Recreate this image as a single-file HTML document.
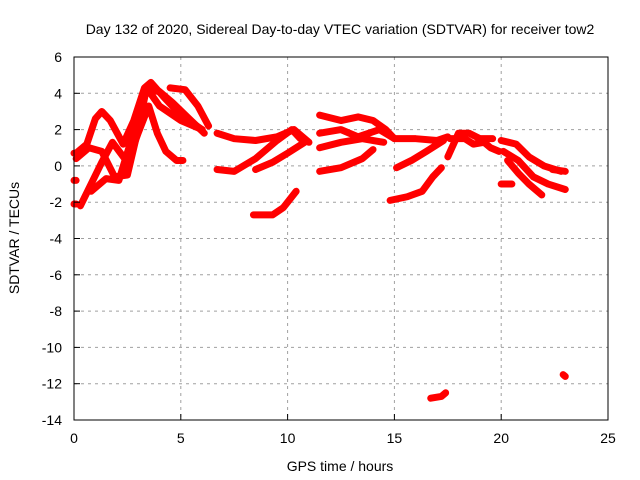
<!DOCTYPE html>
<html><head><meta charset="utf-8"><style>
body{margin:0;background:#fff}
svg{display:block;font-family:"Liberation Sans",sans-serif}
</style></head><body>
<svg id="c" width="640" height="480" xmlns="http://www.w3.org/2000/svg">
<text x="340" y="34" font-size="14" text-anchor="middle">Day 132 of 2020, Sidereal Day-to-day VTEC variation (SDTVAR) for receiver tow2</text>
<text x="340" y="471" font-size="14" text-anchor="middle">GPS time / hours</text>
<text transform="translate(19,238) rotate(-90)" font-size="14" text-anchor="middle">SDTVAR / TECUs</text>
<g id="grid"></g><g id="marks"></g><g id="axes"></g>
</svg>
<script>
const xTicks=[0,5,10,15,20,25];
const yTicks=[-14,-12,-10,-8,-6,-4,-2,0,2,4,6];
const tracks=[
[[0.1,0.7],[0.6,1.2],[1.0,2.6],[1.3,3.0],[1.7,2.5],[2.3,1.2],[2.8,2.5],[3.3,4.3],[3.6,4.6],[4.2,3.8],[5,2.8],[6,2.0]],
[[0.3,-2.2],[0.8,-1.0],[1.3,0.2],[1.8,1.3],[2.5,0.2],[3.0,1.8],[3.5,3.3],[3.9,1.8],[4.3,0.8],[4.8,0.3],[5.1,0.3]],
[[0.1,0.4],[0.7,1.0],[1.3,0.8],[1.9,-0.6],[2.5,-0.5],[3.0,2.0],[3.4,4.3],[4.0,3.3],[5.0,2.5],[6.0,2.0]],
[[0.8,-1.4],[1.5,-0.7],[2.1,-0.8],[2.7,1.5],[3.3,4.2],[4.0,4.1],[4.6,3.5],[5.3,2.7],[6.1,1.8]],
[[4.5,4.3],[5.2,4.2],[5.8,3.3],[6.3,2.2]],
[[6.7,1.8],[7.5,1.5],[8.5,1.4],[9.5,1.6],[10.3,2.0],[11,1.3]],
[[6.7,-0.2],[7.5,-0.3],[8.5,0.4],[9.5,1.4],[10.2,2.0],[10.6,1.5]],
[[8.5,-0.2],[9.3,0.2],[10,0.7],[10.8,1.3]],
[[8.4,-2.7],[9.3,-2.7],[9.8,-2.3],[10.4,-1.4]],
[[11.5,2.8],[12.5,2.5],[13.3,2.7],[14.0,2.5],[14.6,2.0],[15.0,1.5]],
[[11.5,1.8],[12.5,2.0],[13.3,1.6],[14.3,2.0],[15,1.5],[16,1.5],[17,1.4],[17.5,1.6]],
[[11.5,1.0],[12.5,1.3],[13.5,1.5],[14.5,1.3]],
[[11.5,-0.3],[12.5,-0.1],[13.5,0.4],[14,0.9]],
[[15.1,-0.1],[15.8,0.3],[16.5,0.8],[17.3,1.4]],
[[14.8,-1.9],[15.6,-1.7],[16.3,-1.4],[16.8,-0.6],[17.2,-0.1]],
[[17.6,1.5],[18.3,1.5],[18.7,1.2],[19.2,1.3],[19.5,1.0],[19.9,0.8]],
[[17.5,0.5],[18.0,1.8],[18.5,1.8],[19,1.5],[19.6,1.5]],
[[20.0,1.4],[20.7,1.2],[21.3,0.5],[22.0,0],[22.8,-0.3]],
[[20.1,0.8],[20.8,0.3],[21.5,-0.6],[22.2,-1.0],[23,-1.3]],
[[20.3,0.3],[20.8,-0.4],[21.3,-1.0],[21.9,-1.6]],
[[20.0,-1.0],[20.5,-1.0]],
[[22.4,-0.2],[23,-0.3]],
[[16.7,-12.8],[17.2,-12.7],[17.4,-12.5]],
[[22.9,-11.5],[23.0,-11.6]],
[[0,0.7],[0.1,0.7]],[[0,-0.8],[0.1,-0.8]],[[0,-2.1],[0.1,-2.1]]
];
const L=74,R=608,T=57,B=420;
const sx=v=>L+(v-0)/(25-0)*(R-L);
const sy=v=>B-(v+14)/(6+14)*(B-T);
const NS="http://www.w3.org/2000/svg";
function mk(tag,attrs,parent){const e=document.createElementNS(NS,tag);for(const k in attrs)e.setAttribute(k,attrs[k]);parent.appendChild(e);return e;}
const g=document.getElementById('grid'),m=document.getElementById('marks'),a=document.getElementById('axes');
xTicks.forEach(t=>{
 if(t>0&&t<25){const l=mk('line',{x1:sx(t),x2:sx(t),y1:T,y2:B,stroke:'#a0a0a0','stroke-dasharray':'3,4'},g);
 
 }
 const tk=mk('line',{x1:sx(t),x2:sx(t),y1:B,y2:B-6,stroke:'#000'},a);
 
 
 const tx=mk('text',{x:sx(t),y:B+23,'font-size':14,'text-anchor':'middle'},a);tx.textContent=t;
 
 
});
yTicks.forEach(t=>{
 if(t>-14&&t<6){const l=mk('line',{x1:L,x2:R,y1:sy(t),y2:sy(t),stroke:'#a0a0a0','stroke-dasharray':'3,4'},g);
 
 }
 const tk=mk('line',{x1:L,x2:L+6,y1:sy(t),y2:sy(t),stroke:'#000'},a);
 
 
 const tx=mk('text',{x:L-12,y:sy(t)+5,'font-size':14,'text-anchor':'end'},a);tx.textContent=t;
 
 
});
const fr=mk('rect',{x:L,y:T,width:R-L,height:B-T,fill:'none',stroke:'#000'},a);


tracks.forEach(tr=>{
 const p=mk('polyline',{points:tr.map(d=>sx(d[0])+','+sy(d[1])).join(' '),fill:'none',stroke:'#f00','stroke-width':7,'stroke-linejoin':'round','stroke-linecap':'round'},m);
 
 
});
</script>
</body></html>
